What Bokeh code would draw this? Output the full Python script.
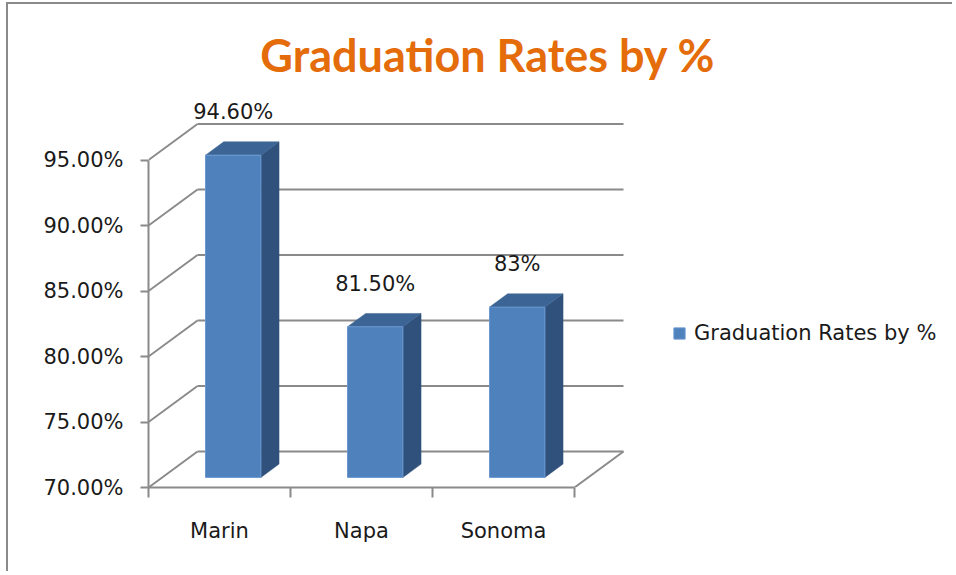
from bokeh.plotting import figure
from bokeh.models import Range1d, FixedTicker, PrintfTickFormatter, Legend, LegendItem, Label
from bokeh.core.properties import value
from bokeh.embed import file_html
from bokeh.resources import INLINE

# ---------------- data ----------------
categories = ["Marin", "Napa", "Sonoma"]
rates = [94.6, 81.5, 83.0]
rate_labels = ["94.60%", "81.50%", "83%"]
y_ticks = [70, 75, 80, 85, 90, 95]
series_name = "Graduation Rates by %"
title_text = "Graduation Rates by %"

# ---------------- layout / projection ----------------
W, H = 946, 569
FRAME_L = 140          # canvas px to the frame's left edge
FRAME_B = H - 483      # canvas px below the frame
PX_PER_CAT = 142.0
PX_PER_PCT = 13.1
FLOOR = 70.0
DX = 49 / PX_PER_CAT   # depth offset, category units
DY = 36 / PX_PER_PCT   # depth offset, percent units
T0, T1 = 0.28, 0.65    # bar depth extent (fraction of full depth)
BL, BR = 0.305, 0.695  # bar extent within a category

GRID = "#8a8a8a"
FRONT = "#4F81BD"
SIDE = "#30517B"
TOP = "#3C6494"
FONT = "DejaVu Sans"

ncat = len(categories)
p = figure(width=W, height=H, output_backend="svg", toolbar_location=None,
           x_range=Range1d(0, (W - FRAME_L) / PX_PER_CAT),
           y_range=Range1d(FLOOR, FLOOR + (H - FRAME_B) / PX_PER_PCT),
           min_border_left=FRAME_L, min_border_right=0, min_border_top=0,
           min_border_bottom=FRAME_B)
p.outline_line_color = None
p.grid.visible = False
p.styles = {"margin-left": "6px", "margin-top": "2px",
            "border-left": "2px solid #8a8a8a", "border-top": "2px solid #8a8a8a"}

# ----- axes -----
yax = p.yaxis[0]
yax.ticker = FixedTicker(ticks=y_ticks, minor_ticks=[])
yax.formatter = PrintfTickFormatter(format="%.2f%%")
yax.bounds = (min(y_ticks), max(y_ticks))
yax.axis_line_color = GRID
yax.axis_line_width = 2
yax.major_tick_line_color = GRID
yax.major_tick_line_width = 2
yax.major_tick_in = 0
yax.major_tick_out = 8
yax.minor_tick_line_color = None
yax.major_label_standoff = 17
yax.major_label_text_font = FONT
yax.major_label_text_font_size = "21px"
yax.major_label_text_color = "#1a1a1a"

xax = p.xaxis[0]
xax.ticker = FixedTicker(ticks=[i + 0.5 for i in range(ncat)],
                         minor_ticks=list(range(ncat + 1)))
xax.major_label_overrides = {i + 0.5: c for i, c in enumerate(categories)}
xax.bounds = (0, ncat)
xax.axis_line_color = GRID
xax.axis_line_width = 2
xax.major_tick_line_color = None
xax.major_tick_in = 0
xax.major_tick_out = 0
xax.minor_tick_line_color = GRID
xax.minor_tick_line_width = 2
xax.minor_tick_in = 0
xax.minor_tick_out = 10
xax.major_label_standoff = 21
xax.major_label_text_font = FONT
xax.major_label_text_font_size = "21px"
xax.major_label_text_color = "#1a1a1a"

# ----- 3D walls: back wall gridlines, side wall diagonals, floor edge -----
back_xs = [[DX, ncat + DX] for v in y_ticks]
back_ys = [[v + DY, v + DY] for v in y_ticks]
p.multi_line(back_xs, back_ys, line_color=GRID, line_width=2)
side_xs = [[0, DX] for v in y_ticks]
side_ys = [[v, v + DY] for v in y_ticks]
p.multi_line(side_xs, side_ys, line_color=GRID, line_width=2)
p.line([ncat, ncat + DX], [FLOOR, FLOOR + DY], line_color=GRID, line_width=2)

# ----- 3D bars -----
front_xs, front_ys, side_xs2, side_ys2, top_xs, top_ys = [], [], [], [], [], []
for i, v in enumerate(rates):
    xl0, xr0 = i + BL + T0 * DX, i + BR + T0 * DX
    xl1, xr1 = i + BL + T1 * DX, i + BR + T1 * DX
    b0, b1 = FLOOR + T0 * DY, FLOOR + T1 * DY
    t0, t1 = v + T0 * DY, v + T1 * DY
    front_xs.append([xl0, xr0, xr0, xl0])
    front_ys.append([b0, b0, t0, t0])
    side_xs2.append([xr0, xr1, xr1, xr0])
    side_ys2.append([b0, b1, t1, t0])
    top_xs.append([xl0, xr0, xr1, xl1])
    top_ys.append([t0, t0, t1, t1])

p.patches(side_xs2, side_ys2, fill_color=SIDE, line_color=SIDE, line_width=0.5)
p.patches(top_xs, top_ys, fill_color=TOP, line_color=TOP, line_width=0.5)
front = p.patches(front_xs, front_ys, fill_color=FRONT, line_color="#6a98cf", line_width=1)

# ----- data labels -----
p.text(x=[i + 0.5 * (BL + BR) + T0 * DX for i in range(ncat)],
       y=[v + T0 * DY for v in rates], text=rate_labels,
       text_align="center", text_baseline="middle", y_offset=-43,
       text_font=value(FONT), text_font_size="21px", text_color="#1a1a1a")

# ----- title -----
p.add_layout(Label(x=2.39, y=103.0, text=title_text, text_align="center",
                   text_baseline="middle", text_font="Lato", text_font_style="bold",
                   text_font_size="45px", text_color="#E46C0A"))

# ----- legend -----
legend = Legend(items=[LegendItem(label=series_name, renderers=[front])],
                location=(524, 142), padding=0, margin=0, spacing=0,
                border_line_color=None, background_fill_alpha=0,
                glyph_width=14, glyph_height=14, label_standoff=8,
                label_text_font=FONT, label_text_font_size="21px",
                label_text_color="#1a1a1a")
p.add_layout(legend)

open("out.html", "w").write(file_html(p, INLINE))
